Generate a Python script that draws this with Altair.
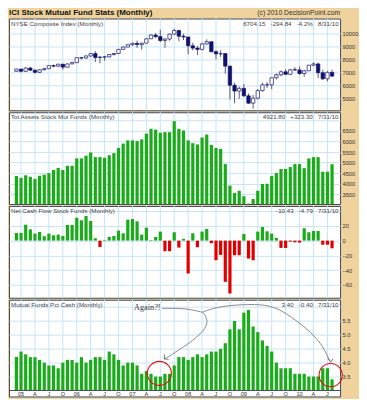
import altair as alt
import pandas as pd

# ---------------- data (69 monthly positions) ----------------
nyse_open = [7080, 7250, 7080, 7330, 7170, 7000, 7200, 7280, 7520, 7480, 7630, 7400, 7650,
             7750, 8130, 8110, 8270, 8450, 8150, 8180, 8200, 8380, 8460, 8780, 8960,
             9140, 9250, 9150, 9260, 9600, 9890, 9770, 9470, 9580, 9960, 10240, 9800,
             9740, 9060, 8880, 8780, 9200, 9370, 8600, 8430, 8450, 7480, 6000, 5550,
             5760, 5180, 4610, 5000, 5580, 6030, 6030, 6580, 6810, 7040, 6850, 7200,
             7185, 6910, 7120, 7550, 7650, 6970, 6500, 7000]
nyse_close = [7250, 7080, 7330, 7170, 7000, 7200, 7280, 7520, 7480, 7630, 7400, 7650, 7750,
              8130, 8110, 8270, 8450, 8150, 8180, 8200, 8380, 8460, 8780, 8960, 9140,
              9250, 9150, 9260, 9600, 9890, 9770, 9470, 9580, 9960, 10240, 9800, 9740,
              9060, 8880, 8780, 9200, 9370, 8600, 8430, 8450, 7480, 6000, 5550, 5760,
              5180, 4610, 5000, 5580, 6030, 6030, 6580, 6810, 7040, 6850, 7200, 7185,
              6910, 7120, 7550, 7650, 6970, 6500, 7000, 6705]
nyse_high = [7280, 7260, 7400, 7420, 7200, 7220, 7350, 7540, 7600, 7650, 7650, 7680, 7830,
             8150, 8200, 8300, 8500, 8650, 8250, 8280, 8420, 8500, 8800, 9000, 9180,
             9300, 9450, 9300, 9650, 9950, 10050, 10300, 9650, 10000, 10380, 10300, 10000,
             9750, 9300, 9050, 9300, 9550, 9400, 8700, 8700, 8500, 7500, 6200, 5900,
             6100, 5350, 5250, 5700, 6200, 6250, 6600, 6900, 7150, 7250, 7250, 7400,
             7450, 7200, 7580, 7780, 7750, 7200, 7100, 7200]
nyse_low = [7050, 6980, 7060, 7100, 6900, 6950, 7150, 7260, 7400, 7400, 7200, 7380, 7650,
            7750, 8000, 8050, 8200, 7800, 7700, 7900, 8150, 8300, 8450, 8750, 8950,
            9050, 8900, 8750, 9250, 9600, 9650, 9350, 8900, 9450, 9900, 9400, 9500,
            8400, 8700, 8350, 8700, 9150, 8550, 8000, 8200, 6900, 4900, 4600, 4950,
            5100, 4550, 4180, 4900, 5500, 5800, 5700, 6450, 6700, 6800, 6780, 7100,
            6800, 6650, 7100, 7480, 6550, 6400, 6300, 6650]

assets = [4363, 4280, 4400, 4330, 4230, 4380, 4430, 4500, 4650, 4750, 4650, 4850, 4850,
          5200, 5200, 5330, 5480, 5260, 5260, 5230, 5350, 5450, 5690, 5900, 6050,
          6050, 6020, 6100, 6370, 6600, 6560, 6410, 6440, 6440, 6960, 6600, 6520,
          6050, 5920, 5860, 6190, 6330, 5840, 5690, 5650, 4930, 3910, 3560, 3670,
          3410, 3060, 3280, 3670, 3990, 4000, 4370, 4510, 4700, 4700, 4790, 4930,
          4930, 4740, 5200, 5260, 5260, 4570, 4570, 4922]

flow = [10.4, 10.4, 21.6, 15.3, 9.5, 11.7, 5.9, 9.5, 7.2, 8.1, 6.3, 21.2, 21.2,
        31.0, 27.5, 33.3, 26.6, 3.2, -8.6, 0.9, 5.0, 6.3, 13.5, 9.9, 28.4,
        29.3, 26.1, 8.1, 17.6, 0.9, 5.0, 12.2, -14.4, -14.4, 11.3, -9.5, 2.3,
        -44.6, 9.9, -9.0, 12.2, 15.8, -3.6, -26.6, -19.4, -55.9, -71.6, -19.8, -19.8,
        9.0, -24.3, -26.6, 12.2, 18.5, 12.6, 9.5, 3.6, -9.9, -9.9, -1.4, -2.3,
        -2.7, 16.7, 11.3, 13.1, 13.1, -5.6, -5.6, -10.4]

cash = [4.2, 4.4, 4.3, 4.2, 4.2, 4.1, 4.0, 3.9, 3.9, 3.8, 4.0, 4.1, 4.1,
        4.0, 4.2, 4.0, 4.1, 4.2, 4.2, 4.1, 4.4, 4.3, 4.1, 3.9, 4.0,
        4.0, 3.9, 3.6, 3.7, 3.6, 3.5, 3.5, 3.6, 3.6, 3.9, 4.2, 4.2,
        4.1, 4.2, 4.3, 4.2, 4.3, 4.4, 4.4, 4.5, 4.7, 5.2, 5.5, 5.2,
        5.8, 5.9, 5.3, 5.1, 4.8, 4.6, 4.4, 4.0, 3.8, 3.8, 3.8, 3.6,
        3.6, 3.6, 3.5, 3.5, 3.5, 3.8, 3.8, 3.4]

tick_pos = [1, 4, 7, 10, 13, 16, 19, 22, 25, 28, 31, 34, 37, 40, 43, 46, 49, 52, 55, 58, 61, 64, 67]
tick_lbl = ["05", "A", "J", "O", "06", "A", "J", "O", "07", "A", "J", "O",
            "08", "A", "J", "O", "09", "A", "J", "O", "10", "A", "J"]

# annotation anchors (month position, pct-cash value)
circle_i = [30.8, 67.7]
circle_v = [3.615, 3.552]
circle_size = [580, 540]
curve_seg = ["a"] * 4 + ["b"] * 9 + ["c"] * 10
curve_i = [31.35, 35.3, 37.4, 40.04,
           40.04, 40.52, 41.21, 40.88, 39.83, 37.4, 34.63, 33.23, 31.83,
           40.04, 42.96, 46.42, 49.9, 52.67, 56.15, 60.31, 64.48, 66.56, 67.5]
curve_v = [5.955, 5.955, 5.92, 5.816,
           5.816, 5.757, 5.524, 5.295, 5.063, 4.715, 4.427, 4.253, 4.135,
           5.816, 5.99, 6.069, 6.094, 6.094, 5.99, 5.524, 4.948, 4.427, 4.056]
arrow_seg = ["p", "p", "p", "q", "q", "q"]
arrow_i = [31.94, 31.83, 32.81, 67.08, 67.71, 68.23]
arrow_v = [4.299, 4.135, 4.125, 4.177, 4.021, 4.142]

# ---------------- styling ----------------
TAN = "#EFD29C"
FRAME = "#3E4B5E"
GRID = "#C6E4F5"
NAVY = "#12126E"
GREEN = "#19AC19"
RED = "#E00000"
FONT = "Liberation Sans"
W = 332
N = len(assets)
idx = list(range(N))

xs = alt.Scale(domain=[-0.521, 68.65])
X = alt.X("i:Q", scale=xs, axis=None)

grid_df = pd.DataFrame({"i": tick_pos, "lbl": tick_lbl})


def yaxis(vals, fmt, hide=None):
    kw = dict(orient="right", values=vals, format=fmt, grid=True, gridColor=GRID,
              gridWidth=1, domain=False, ticks=False, labelFontSize=5.7,
              labelPadding=2, labelColor="#333333", labelFont=FONT, title=None,
              labelFlush=False, labelOverlap=False)
    if hide is not None:
        kw["labelExpr"] = f"datum.value == {hide} ? '' : datum.label"
    return alt.Axis(**kw)


def header(left, right, W=W):
    l = alt.Chart(pd.DataFrame({"t": [left]})).mark_text(
        align="left", baseline="middle", font=FONT, fontSize=6.2, color="#444444"
    ).encode(x=alt.value(2), y=alt.value(5), text="t:N")
    r = alt.Chart(pd.DataFrame({"t": [right]})).mark_text(
        align="right", baseline="middle", font=FONT, fontSize=6.2, color="#444444"
    ).encode(x=alt.value(W - 1.5), y=alt.value(5), text="t:N")
    return [l, r]


vgrid = alt.Chart(grid_df).mark_rule(color=GRID, strokeWidth=1).encode(x=X)

# ---------------- title strip ----------------
title_l = alt.Chart(pd.DataFrame({"t": ["ICI Stock Mutual Fund Stats (Monthly)"]})).mark_text(
    align="left", baseline="alphabetic", font=FONT, fontSize=8, fontWeight="bold", color="#111111"
).encode(x=alt.value(0), y=alt.value(6.3), text="t:N")
title_r = alt.Chart(pd.DataFrame({"t": ["(c) 2010 DecisionPoint.com"]})).mark_text(
    align="right", baseline="alphabetic", font=FONT, fontSize=6.8, color="#333333"
).encode(x=alt.value(W), y=alt.value(6.3), text="t:N")
p0 = alt.layer(title_l, title_r).properties(
    width=W, height=7, view=alt.ViewBackground(strokeOpacity=0, fill=TAN))

# ---------------- panel 1: NYSE candles ----------------
df1 = pd.DataFrame({"i": idx, "o": nyse_open, "c": nyse_close, "h": nyse_high, "l": nyse_low})
ys1 = alt.Scale(domain=[4060, 11170], zero=False, nice=False)
ax1 = yaxis([5000, 6000, 7000, 8000, 9000, 10000], "d")
wick = alt.Chart(df1).mark_rule(color="#5A5A80", strokeWidth=1).encode(
    x=X, y=alt.Y("l:Q", scale=ys1, axis=ax1), y2="h:Q")
body = alt.Chart(df1).mark_bar(size=3.4, stroke=NAVY, strokeWidth=0.7).encode(
    x=X, y=alt.Y("o:Q", scale=ys1, axis=ax1), y2="c:Q",
    fill=alt.condition("datum.c >= datum.o", alt.value("white"), alt.value(NAVY)))
p1 = alt.layer(vgrid, wick, body,
               *header("NYSE Composite Index (Monthly)",
                       "6704.15\u00a0\u00a0\u00a0-294.84\u00a0\u00a0\u00a0-4.2%\u00a0\u00a0\u00a08/31/10")
               ).properties(width=W, height=92)

# ---------------- panel 2: total assets ----------------
df2 = pd.DataFrame({"i": idx, "v": assets})
ys2 = alt.Scale(domain=[3042, 7382], zero=False, nice=False)
bars2 = alt.Chart(df2).mark_bar(size=3.2, color=GREEN).encode(
    x=X, y=alt.Y("v:Q", scale=ys2,
                 axis=yaxis([3500, 4000, 4500, 5000, 5500, 6000, 6500, 7000], "d", hide=7000)),
    y2=alt.datum(3042))
p2 = alt.layer(vgrid, bars2,
               *header("Tot Assets Stock Mut Funds (Monthly)",
                       "4921.80\u00a0\u00a0\u00a0+323.30\u00a0\u00a0\u00a07/31/10")
               ).properties(width=W, height=92)

# ---------------- panel 3: net cash flow ----------------
df3 = pd.DataFrame({"i": idx, "v": flow})
ys3 = alt.Scale(domain=[-77.4, 46.9], zero=False, nice=False)
bars3 = alt.Chart(df3).mark_bar(size=3.2).encode(
    x=X, y=alt.Y("v:Q", scale=ys3, axis=yaxis([-60, -40, -20, 0, 20, 40], "d", hide=40)),
    y2=alt.datum(0),
    color=alt.condition("datum.v >= 0", alt.value(GREEN), alt.value(RED)))
p3 = alt.layer(vgrid, bars3,
               *header("Net Cash Flow Stock Funds (Monthly)",
                       "-10.43\u00a0\u00a0\u00a0-4.79\u00a0\u00a0\u00a07/31/10")
               ).properties(width=W, height=92)

# ---------------- panel 4: pct cash ----------------
df4 = pd.DataFrame({"i": idx, "v": cash})
ys4 = alt.Scale(domain=[2.785, 6.265], zero=False, nice=False)
ax4 = yaxis([3.5, 4.0, 4.5, 5.0, 5.5, 6.0], ".1f", hide=6)
vgrid4 = alt.Chart(grid_df).mark_rule(color=GRID, strokeWidth=1).encode(
    x=X, y=alt.YDatum(3.0, scale=ys4, axis=ax4), y2=alt.value(0))
bars4 = alt.Chart(df4).mark_bar(size=3.2, color=GREEN).encode(
    x=X, y=alt.Y("v:Q", scale=ys4, axis=ax4), y2=alt.datum(3.0))
base4 = alt.Chart(pd.DataFrame({"b": [3.0]})).mark_rule(color=FRAME, strokeWidth=1).encode(
    y=alt.Y("b:Q", scale=ys4, axis=ax4))
xlbl = alt.Chart(grid_df).mark_text(font=FONT, fontSize=5.6, color="#333333",
                                    baseline="middle").encode(
    x=X, y=alt.value(94.2), text="lbl:N")
circ = alt.Chart(pd.DataFrame({"i": circle_i, "v": circle_v, "s": circle_size})).mark_point(
    shape="circle", filled=False, color="#E01010", strokeWidth=1.1, opacity=1).encode(
    x=X, y=alt.Y("v:Q", scale=ys4, axis=ax4), size=alt.Size("s:Q", scale=None, legend=None))
curve_df = pd.DataFrame({"seg": curve_seg, "i": curve_i, "v": curve_v,
                         "k": list(range(len(curve_i)))})
curves = alt.Chart(curve_df).mark_line(color="#6E6E6E", strokeWidth=0.8,
                                       interpolate="basis").encode(
    x=X, y=alt.Y("v:Q", scale=ys4, axis=ax4), detail="seg:N", order="k:Q")
arrow_df = pd.DataFrame({"seg": arrow_seg, "i": arrow_i, "v": arrow_v,
                         "k": list(range(len(arrow_i)))})
arrows = alt.Chart(arrow_df).mark_line(color="#555555", strokeWidth=0.8).encode(
    x=X, y=alt.Y("v:Q", scale=ys4, axis=ax4), detail="seg:N", order="k:Q")
again = alt.Chart(pd.DataFrame({"i": [28.2], "v": [5.955], "t": ["Again?!"]})).mark_text(
    font="Liberation Serif", fontSize=8.3, color="#333333", baseline="middle").encode(
    x=X, y=alt.Y("v:Q", scale=ys4, axis=ax4), text="t:N")
p4 = alt.layer(vgrid4, bars4, base4, xlbl, curves, arrows, circ, again,
               *header("Mutual Funds Pct Cash (Monthly)",
                       "3.40\u00a0\u00a0\u00a0-0.40\u00a0\u00a0\u00a07/31/10")
               ).properties(width=W, height=97)

chart = alt.vconcat(p0, p1, p2, p3, p4, spacing=0).properties(
    background=TAN,
    padding={"left": 0, "top": 0, "right": 0, "bottom": 0},
).configure_view(
    stroke=FRAME, strokeWidth=1, fill="white"
).configure_concat(spacing=0)

chart.save("out.html", embed_options={"renderer": "svg", "actions": False})
